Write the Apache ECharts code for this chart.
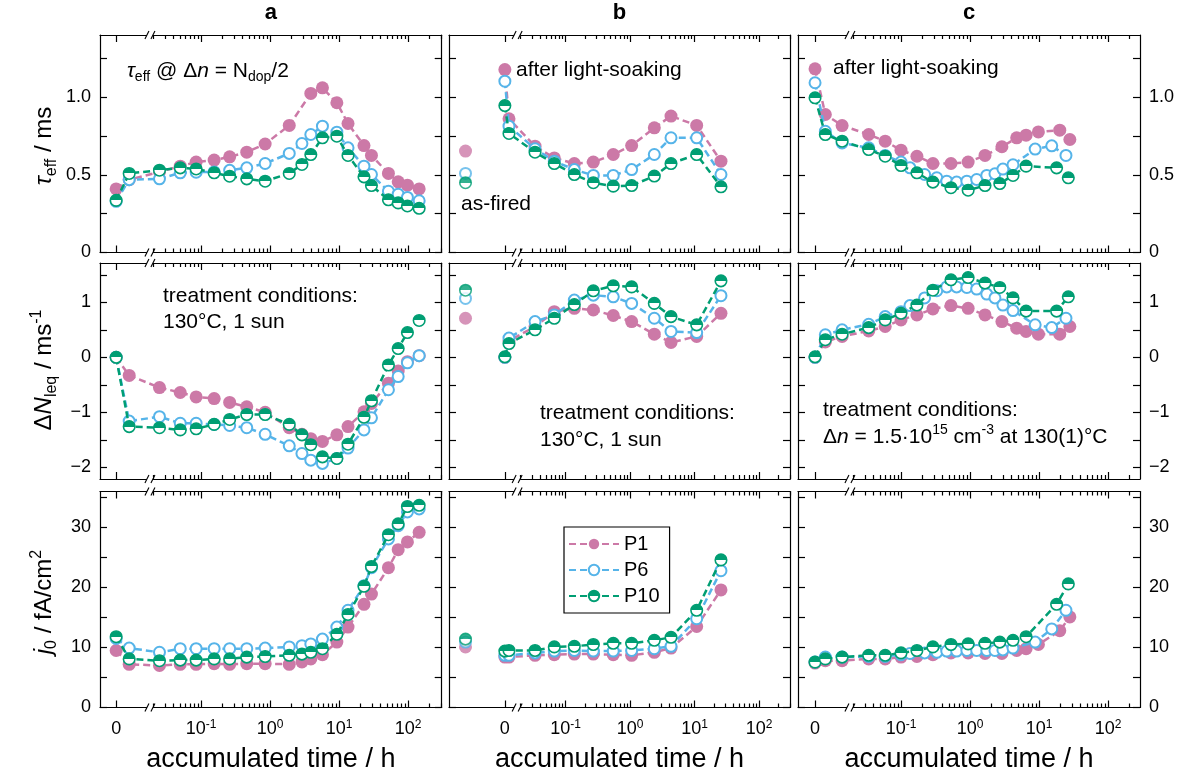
<!DOCTYPE html>
<html>
<head>
<meta charset="utf-8">
<script src="https://cdn.jsdelivr.net/npm/echarts@6/dist/echarts.min.js"></script>
</head>
<body style="margin:0;background:#fff">
<div id="main" style="width:1192px;height:778px"></div>
<script>
var FONT = '"Liberation Sans", Arial, sans-serif';

// samples
var sampleNames = ['P1', 'P6', 'P10'];
var sampleColors = ['#CC79A7', '#56B4E9', '#009E73'];

// column a : 130°C, 1 sun (times in h)
var timeA = [0, 0.0091, 0.025, 0.05, 0.085, 0.155, 0.26, 0.46, 0.85, 1.9, 2.9, 3.9, 5.75, 9.3, 13.5, 23, 29.5, 52, 72, 98, 145];
var tauA_P1  = [0.41, 0.47, 0.52, 0.557, 0.583, 0.596, 0.617, 0.647, 0.70, 0.82, null, 1.026, 1.062, 0.966, 0.832, 0.69, 0.626, 0.51, 0.456, 0.434, 0.41];
var tauA_P6  = [0.33, 0.47, 0.475, 0.514, 0.518, 0.52, 0.53, 0.546, 0.574, 0.639, 0.703, 0.761, 0.815, 0.776, 0.675, 0.557, 0.503, 0.395, 0.376, 0.355, 0.334];
var tauA_P10 = [0.336, 0.51, 0.531, 0.546, 0.539, 0.514, 0.492, 0.475, 0.46, 0.51, 0.568, 0.632, 0.74, 0.75, 0.626, 0.488, 0.432, 0.34, 0.32, 0.30, 0.285];
var dnA_P1  = [0, -0.33, -0.55, -0.64, -0.72, -0.75, -0.82, -0.90, -1.0, -1.28, -1.40, -1.48, -1.53, -1.41, -1.26, -0.99, -0.84, -0.47, -0.25, -0.08, 0.03];
var dnA_P6  = [0, -1.16, -1.08, -1.2, -1.2, -1.22, -1.24, -1.28, -1.40, -1.61, -1.75, -1.87, -1.93, -1.84, -1.65, -1.32, -1.10, -0.59, -0.35, -0.10, 0.03];
var dnA_P10 = [0, -1.26, -1.28, -1.32, -1.30, -1.22, -1.13, -1.04, -1.04, -1.22, -1.41, -1.59, -1.81, -1.84, -1.58, -1.09, -0.79, -0.14, 0.16, 0.45, 0.67];
var j0A_P1  = [9.5, 7.2, 7.0, 7.2, 7.2, 7.3, 7.2, 7.3, 7.3, 7.2, 7.6, 8.1, 8.8, 10.9, 13.4, 17.2, 18.9, 23.3, 26.3, 27.6, 29.2];
var j0A_P6  = [11.5, 9.9, 9.2, 9.8, 9.8, 9.8, 9.8, 9.8, 9.9, 10.1, 10.3, 10.6, 11.4, 13.4, 16.2, 20.3, 23.3, 28.1, 30.3, 32.6, 33.1];
var j0A_P10 = [11.8, 8.1, 7.8, 7.9, 7.9, 8.1, 8.1, 8.4, 8.5, 8.7, 8.9, 9.2, 9.8, 12.2, 15.5, 20.2, 23.5, 28.8, 30.6, 33.5, 33.7];

// column b : 130°C, 1 sun after light-soaking, plus as-fired state (P1, P6, P10)
var timeB = [0, 0.0133, 0.0337, 0.067, 0.137, 0.27, 0.55, 1.06, 2.38, 4.32, 10.8, 25.7];
var tauB_P1  = [1.18, 0.862, 0.686, 0.61, 0.574, 0.583, 0.632, 0.69, 0.804, 0.88, 0.82, 0.589];
var tauB_P6  = [1.105, 0.815, 0.669, 0.589, 0.535, 0.497, 0.497, 0.535, 0.632, 0.74, 0.74, 0.503];
var tauB_P10 = [0.948, 0.768, 0.647, 0.574, 0.503, 0.45, 0.428, 0.432, 0.493, 0.574, 0.632, 0.424];
var dnB_P1  = [0, 0.3, 0.56, 0.83, 0.89, 0.86, 0.76, 0.65, 0.42, 0.27, 0.38, 0.80];
var dnB_P6  = [0, 0.35, 0.65, 0.77, 1.04, 1.13, 1.10, 0.98, 0.71, 0.47, 0.45, 1.12];
var dnB_P10 = [0.01, 0.25, 0.50, 0.71, 0.96, 1.21, 1.30, 1.28, 0.98, 0.74, 0.59, 1.39];
var j0B_P1  = [8.4, 8.4, 8.7, 8.8, 8.9, 8.9, 8.8, 8.7, 9.2, 9.9, 13.5, 19.6];
var j0B_P6  = [8.7, 8.7, 9.1, 9.4, 9.5, 9.4, 9.4, 9.5, 9.8, 10.2, 14.8, 22.8];
var j0B_P10 = [9.4, 9.5, 9.5, 10.1, 10.2, 10.5, 10.7, 10.7, 11.2, 11.7, 16.2, 24.6];
var asFiredTauB = [0.654, 0.51, 0.45];
var asFiredDnB  = [0.71, 1.07, 1.22];
var asFiredJ0B  = [10.1, 10.9, 11.4];

// column c : dn = 1.5e15 cm-3 at 130(1)°C
var timeC_P1  = [0, 0.008, 0.014, 0.034, 0.059, 0.1, 0.17, 0.29, 0.53, 0.94, 1.65, 2.9, 4.75, 6.5, 9.8, 20, 28];
var timeC_P6  = [0, 0.008, 0.014, 0.034, 0.059, 0.1, 0.135, 0.22, 0.33, 0.46, 0.64, 0.9, 1.25, 1.75, 2.3, 3.0, 4.2, 8.8, 15.3, 24.6];
var timeC_P10 = [0, 0.008, 0.014, 0.034, 0.059, 0.1, 0.17, 0.29, 0.53, 0.94, 1.65, 2.7, 4.2, 6.5, 18, 26.6];
var tauC_P1  = [1.185, 0.89, 0.819, 0.761, 0.718, 0.66, 0.621, 0.574, 0.574, 0.583, 0.626, 0.682, 0.74, 0.757, 0.778, 0.789, 0.729];
var tauC_P6  = [1.095, 0.782, 0.707, 0.675, 0.626, 0.583, 0.546, 0.503, 0.482, 0.460, 0.454, 0.460, 0.471, 0.497, 0.508, 0.538, 0.566, 0.667, 0.688, 0.626];
var tauC_P10 = [0.998, 0.761, 0.718, 0.664, 0.621, 0.561, 0.514, 0.454, 0.418, 0.402, 0.432, 0.445, 0.497, 0.557, 0.546, 0.482];
var dnC_P1  = [0, 0.28, 0.38, 0.48, 0.56, 0.68, 0.77, 0.88, 0.94, 0.89, 0.77, 0.65, 0.53, 0.47, 0.42, 0.42, 0.56];
var dnC_P6  = [0, 0.41, 0.50, 0.60, 0.74, 0.83, 0.94, 1.08, 1.21, 1.28, 1.28, 1.27, 1.24, 1.15, 1.08, 0.95, 0.85, 0.59, 0.54, 0.71];
var dnC_P10 = [0.01, 0.32, 0.42, 0.54, 0.68, 0.8, 0.95, 1.22, 1.41, 1.45, 1.35, 1.27, 1.08, 0.84, 0.84, 1.10];
var j0C_P1  = [7.4, 7.8, 7.8, 8.1, 8.1, 8.4, 8.5, 8.8, 9.1, 9.1, 9.0, 9.0, 9.5, 9.8, 10.5, 12.8, 15.1];
var j0C_P6  = [7.6, 8.4, 8.4, 8.5, 8.5, 8.8, 9.0, 9.1, 9.2, 9.4, 9.4, 9.5, 9.5, 9.5, 9.5, 9.6, 9.9, 10.9, 13.1, 16.2];
var j0C_P10 = [7.56, 8.1, 8.4, 8.7, 8.7, 9.1, 9.5, 10.1, 10.5, 10.6, 10.7, 10.9, 11.2, 11.8, 17.2, 20.6];

// y ticks / labels per row
var rowTicks  = [[0, 0.25, 0.5, 0.75, 1, 1.25], [-2, -1.5, -1, -0.5, 0, 0.5, 1, 1.5], [0, 5, 10, 15, 20, 25, 30, 35]];
var rowLabels = [[0, 0.5, 1], [-2, -1, 0, 1], [0, 10, 20, 30]];

var cols = [
  {times: [timeA, timeA, timeA],
   rows: [[tauA_P1, tauA_P6, tauA_P10], [dnA_P1, dnA_P6, dnA_P10], [j0A_P1, j0A_P6, j0A_P10]]},
  {times: [timeB, timeB, timeB],
   rows: [[tauB_P1, tauB_P6, tauB_P10], [dnB_P1, dnB_P6, dnB_P10], [j0B_P1, j0B_P6, j0B_P10]],
   asFired: [asFiredTauB, asFiredDnB, asFiredJ0B]},
  {times: [timeC_P1, timeC_P6, timeC_P10],
   rows: [[tauC_P1, tauC_P6, tauC_P10], [dnC_P1, dnC_P6, dnC_P10], [j0C_P1, j0C_P6, j0C_P10]]}
];

// layout (log10 time on x, t=0 placed left of the axis break)
var colLeft = [100, 449, 798], colWidth = [341.7, 341, 342];
var colMin = [-2.464, -2.806, -2.493], colMax = [2.488, 2.48, 2.464];
var zeroPos = [-2.23, -1.94, -2.246], breakPos = [-1.74, -1.75, -1.74], asFiredPos = -2.55;
var rowTop = [35, 263, 491.5], rowHeight = [217.5, 216, 216];
var rowMin = [0, -2.213, 0], rowMax = [1.403, 1.715, 36];

function xPos(c, t) {
	return t === 0 ? zeroPos[c] : Math.log10(t);
}

function richSet(F) {
	var L = Math.round(F * 1.3), h = Math.round(F * 0.62), f = Math.round(F * 0.68);
	return {
		n: {fontSize: F, lineHeight: L, fontFamily: FONT, color: '#000', fill: '#000'},
		i: {fontSize: F, lineHeight: L, fontFamily: FONT, fontStyle: 'italic', color: '#000', fill: '#000'},
		sub: {fontSize: f, lineHeight: h, fontFamily: FONT, verticalAlign: 'bottom', color: '#000', fill: '#000'},
		sup: {fontSize: f, lineHeight: h, fontFamily: FONT, verticalAlign: 'top', color: '#000', fill: '#000'}
	};
}

var p10Fill = {
	type: 'linear', x: 0, y: 0, x2: 0, y2: 1,
	colorStops: [{offset: 0, color: sampleColors[2]}, {offset: 0.5, color: sampleColors[2]},
	             {offset: 0.5, color: '#fff'}, {offset: 1, color: '#fff'}]
};
var sampleItemStyle = [
	{color: sampleColors[0], borderWidth: 0},
	{color: '#fff', borderColor: sampleColors[1], borderWidth: 2},
	{color: p10Fill, borderColor: sampleColors[2], borderWidth: 1.6}
];
var sampleSymbolSize = [13, 11, 11.5];

var grids = [], xAxes = [], yAxes = [], series = [];
var black = {color: '#000', width: 1.2};

for (var r = 0; r < 3; r++) {
	for (var c = 0; c < 3; c++) {
		var g = r * 3 + c;
		grids.push({left: colLeft[c], top: rowTop[r], width: colWidth[c], height: rowHeight[r],
			show: false, containLabel: false, outerBoundsMode: 'none'});

		var majors = [zeroPos[c], -1, 0, 1, 2];
		var minors = [];
		for (var n = -2; n <= 2; n++) {
			for (var k = 2; k <= 9; k++) {
				var lv = Math.log10(k) + n;
				if (lv > breakPos[c] + 0.02 && lv < colMax[c]) minors.push(lv);
			}
		}
		(function (c, r) {
			var xFmt = function (v) {
				if (Math.abs(v - zeroPos[c]) < 1e-6) return '{n|0}';
				return '{n|10}{sup|' + Math.round(v) + '}';
			};
			['bottom', 'top'].forEach(function (pos) {
				xAxes.push({
					type: 'value', gridIndex: g, position: pos, min: colMin[c], max: colMax[c],
					axisLine: {show: true, onZero: false, lineStyle: black},
					axisTick: {show: true, inside: true, length: 7, customValues: majors, lineStyle: black},
					axisLabel: {show: pos === 'bottom' && r === 2, customValues: majors, formatter: xFmt,
						margin: 11, rich: {
							n: {fontSize: 18, lineHeight: 22, fontFamily: FONT, color: '#000'},
							sup: {fontSize: 12, lineHeight: 10, fontFamily: FONT, color: '#000', verticalAlign: 'top'}
						}},
					splitLine: {show: false}
				});
				xAxes.push({
					type: 'value', gridIndex: g, position: pos, min: colMin[c], max: colMax[c],
					axisLine: {show: false, onZero: false},
					axisTick: {show: true, inside: true, length: 4, customValues: minors, lineStyle: black},
					axisLabel: {show: false},
					splitLine: {show: false}
				});
			});
			var yFmt = function (v) {
				if (r === 0) return v === 0 ? '0' : v.toFixed(1);
				if (v < 0) return '\u2212' + (-v);
				return String(v);
			};
			['left', 'right'].forEach(function (pos) {
				yAxes.push({
					type: 'value', gridIndex: g, position: pos, min: rowMin[r], max: rowMax[r],
					axisLine: {show: true, onZero: false, lineStyle: black},
					axisTick: {show: true, inside: true, length: 7, customValues: rowTicks[r], lineStyle: black},
					axisLabel: {show: (pos === 'left' && c === 0) || (pos === 'right' && c === 2),
						customValues: rowLabels[r], formatter: yFmt, margin: 9,
						fontSize: 18, fontFamily: FONT, color: '#000'},
					splitLine: {show: false}
				});
			});
		})(c, r);
	}
}

for (var s = 0; s < 3; s++) {
	for (var r2 = 0; r2 < 3; r2++) {
		for (var c2 = 0; c2 < 3; c2++) {
			var g2 = r2 * 3 + c2;
			var times = cols[c2].times[s], vals = cols[c2].rows[r2][s];
			var data = [];
			for (var i = 0; i < times.length; i++) {
				if (vals[i] != null) data.push([xPos(c2, times[i]), vals[i]]);
			}
			series.push({
				type: 'line', name: sampleNames[s], xAxisIndex: 4 * g2, yAxisIndex: 2 * g2,
				data: data, symbol: 'circle', symbolSize: sampleSymbolSize[s], showSymbol: true,
				lineStyle: {color: sampleColors[s], width: 2.5, type: [7, 4]},
				itemStyle: sampleItemStyle[s], z: 2 + s, emphasis: {disabled: true}
			});
			if (cols[c2].asFired) {
				series.push({
					type: 'scatter', name: sampleNames[s], xAxisIndex: 4 * g2, yAxisIndex: 2 * g2,
					data: [[asFiredPos, cols[c2].asFired[r2][s]]],
					symbol: 'circle', symbolSize: sampleSymbolSize[s],
					itemStyle: sampleItemStyle[s], z: 2 + s, emphasis: {disabled: true}
				});
			}
		}
	}
}

var texts = [];
function addText(x, y, text, F, extra) {
	var el = {type: 'text', x: x, y: y, z: 50,
		style: {text: text, rich: richSet(F), fontSize: F, fontFamily: FONT, fill: '#000',
			align: 'left', verticalAlign: 'middle'}};
	if (extra) {
		for (var key in extra) el[key] = extra[key];
		if (extra.align) el.style.align = extra.align;
	}
	texts.push(el);
}
// column titles and x axis names
['a', 'b', 'c'].forEach(function (t, c) {
	texts.push({type: 'text', x: colLeft[c] + colWidth[c] / 2, y: 13, z: 50,
		style: {text: t, fontSize: 22, fontWeight: 'bold', fontFamily: FONT, fill: '#000',
			align: 'center', verticalAlign: 'middle'}});
	texts.push({type: 'text', x: colLeft[c] + colWidth[c] / 2, y: 760, z: 50,
		style: {text: 'accumulated time / h', fontSize: 27, fontFamily: FONT, fill: '#000',
			align: 'center', verticalAlign: 'middle'}});
});
// y axis names
addText(44, 146, '{i|τ}{sub|eff}{n| / ms}', 24, {rotation: Math.PI / 2, align: 'center'});
addText(44, 370, '{n|Δ}{i|N}{sub|leq}{n| / ms}{sup|-1}', 24, {rotation: Math.PI / 2, align: 'center'});
addText(44, 602, '{i|j}{sub|0}{n| / fA/cm}{sup|2}', 24, {rotation: Math.PI / 2, align: 'center'});
// annotations
addText(127, 71, '{i|τ}{sub|eff}{n| @ Δ}{i|n}{n| = N}{sub|dop}{n|/2}', 21);
addText(516, 70, '{n|after light-soaking}', 21);
addText(833, 68, '{n|after light-soaking}', 21);
addText(461, 204, '{n|as-fired}', 21);
addText(163, 296, '{n|treatment conditions:}', 21);
addText(163, 322, '{n|130°C, 1 sun}', 21);
addText(540, 413, '{n|treatment conditions:}', 21);
addText(540, 440, '{n|130°C, 1 sun}', 21);
addText(823, 410, '{n|treatment conditions:}', 21);
addText(823, 437, '{n|Δ}{i|n}{n| = 1.5·10}{sup|15}{n| cm}{sup|-3}{n| at 130(1)°C}', 21);

var chart = echarts.init(document.getElementById('main'));
chart.setOption({
	animation: false,
	backgroundColor: '#fff',
	grid: grids,
	xAxis: xAxes,
	yAxis: yAxes,
	legend: {
		data: sampleNames, orient: 'vertical', left: 564, top: 527,
		itemWidth: 50, itemHeight: 13, itemGap: 6, padding: [7, 10, 7, 4],
		borderColor: '#000', borderWidth: 1.2, selectedMode: false,
		textStyle: {fontSize: 20, fontFamily: FONT, color: '#000'}
	},
	series: series
});

// axis break marks "//" on top and bottom axes of every panel
function breakMark(x, y) {
	return {type: 'group', x: x, y: y, z: 60, children: [
		{type: 'rect', shape: {x: -3, y: -2, width: 6, height: 4}, style: {fill: '#fff'}, z: 60},
		{type: 'line', shape: {x1: -5, y1: 4, x2: -1, y2: -4}, style: {stroke: '#000', lineWidth: 1.1}, z: 61},
		{type: 'line', shape: {x1: 1, y1: 4, x2: 5, y2: -4}, style: {stroke: '#000', lineWidth: 1.1}, z: 61}
	]};
}
var gfx = texts.slice();
for (var gg = 0; gg < 9; gg++) {
	var cc = gg % 3, rr = Math.floor(gg / 3);
	var finder = {xAxisIndex: 4 * gg, yAxisIndex: 2 * gg};
	var pTop = chart.convertToPixel(finder, [breakPos[cc], rowMax[rr]]);
	var pBot = chart.convertToPixel(finder, [breakPos[cc], rowMin[rr]]);
	gfx.push(breakMark(pTop[0], pTop[1]));
	gfx.push(breakMark(pBot[0], pBot[1]));
}
chart.setOption({graphic: gfx});
</script>
</body>
</html>
